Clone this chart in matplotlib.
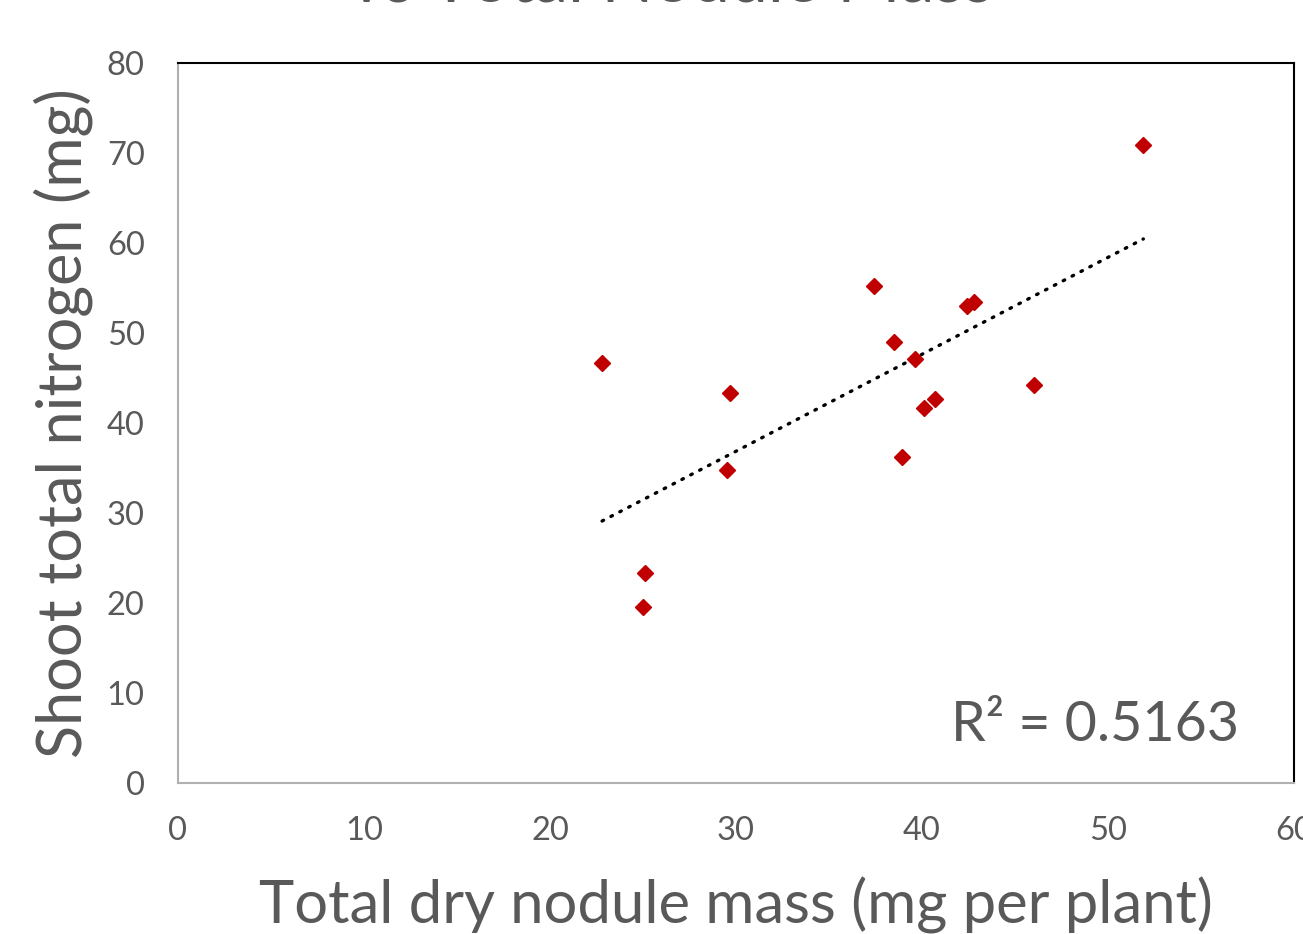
import matplotlib.pyplot as plt
import numpy as np

plt.rcParams['font.family'] = ['Lato', 'DejaVu Sans']

nodule_mass = [22.8, 25.1, 25.0, 29.7, 29.5, 37.4, 38.5, 39.6, 38.9, 40.1, 40.7, 42.4, 42.8, 46.0, 51.9]
shoot_n = [46.7, 23.3, 19.6, 43.3, 34.8, 55.2, 49.0, 47.1, 36.2, 41.7, 42.7, 53.0, 53.4, 44.2, 70.9]
r2_text = 'R² = 0.5163'

gray = '#595959'

fig = plt.figure(figsize=(13.03, 9.34), dpi=100)
ax = fig.add_axes([0.1366, 0.1617, 0.8565, 0.7708])

ax.plot(nodule_mass, shoot_n, linestyle='none', marker='D', markersize=8,
        color='#C00000', zorder=3)

# linear trendline over the data range
k, b = np.polyfit(nodule_mass, shoot_n, 1)
xs = np.array([min(nodule_mass), max(nodule_mass)])
ax.plot(xs, k * xs + b, color='black', linestyle=(0, (0.5, 2.5)), linewidth=2.4,
        dash_capstyle='round', zorder=2)

ax.set_xlim(0, 60)
ax.set_ylim(0, 80)
ax.set_xticks(range(0, 61, 10))
ax.set_yticks(range(0, 81, 10))
ax.tick_params(length=0, labelsize=23.5, colors=gray)
ax.tick_params(axis='x', pad=24)
ax.tick_params(axis='y', pad=24)

for side in ['left', 'bottom']:
    ax.spines[side].set_color('#b0b0b0')
    ax.spines[side].set_linewidth(1.5)
for side in ['top', 'right']:
    ax.spines[side].set_color('black')
    ax.spines[side].set_linewidth(1.5)

ax.set_xlabel('Total dry nodule mass (mg per plant)', fontsize=43, color=gray, labelpad=22)
ax.set_ylabel('Shoot total nitrogen (mg)', fontsize=44, color=gray, labelpad=10)

ax.text(0.951, 0.08, r2_text, transform=ax.transAxes, ha='right', va='center',
        fontsize=40, color=gray)

# title, mostly cut off by the top edge
fig.text(0.515, 1 - 2 / 934, 'vs Total Nodule Mass', ha='center', va='baseline',
         fontsize=49, color=gray)

fig.savefig('out.png', dpi=100)
